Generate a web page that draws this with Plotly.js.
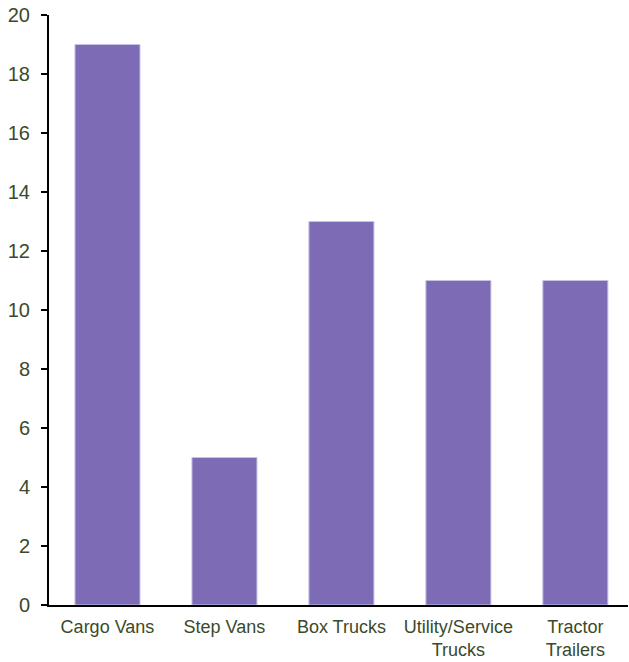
<!DOCTYPE html>
<html>
<head>
<meta charset="utf-8">
<script src="https://cdn.plot.ly/plotly-3.0.1.min.js"></script>
<style>
  html, body { margin: 0; padding: 0; background: #fff; }
  #chart { width: 629px; height: 662px; }
</style>
</head>
<body>
<div id="chart"></div>
<script>
// Vehicle categories and their counts
const categories = ["Cargo Vans", "Step Vans", "Box Trucks", "Utility/Service<br>Trucks", "Tractor<br>Trailers"];
const counts = [19, 5, 13, 11, 11];
const yTicks = [0, 2, 4, 6, 8, 10, 12, 14, 16, 18, 20];

const textColor = "#3B4A2A";

const trace = {
  type: "bar",
  x: categories,
  y: counts,
  marker: {
    color: "#7E6BB5",
    line: { color: "#C9C0E6", width: 1 }
  },
  hoverinfo: "x+y"
};

const layout = {
  width: 629,
  height: 662,
  margin: { l: 49, r: 1, t: 15, b: 57, pad: 0 },
  paper_bgcolor: "#ffffff",
  plot_bgcolor: "#ffffff",
  bargap: 0.444,
  showlegend: false,
  font: { family: "Liberation Sans, Arial, sans-serif", size: 18, color: textColor },
  xaxis: {
    type: "category",
    range: [-0.5, 4.45],
    showline: true,
    linecolor: "#000000",
    linewidth: 2,
    ticks: "",
    ticklabelstandoff: 4,
    showgrid: false,
    zeroline: false,
    tickfont: { size: 18, color: textColor }
  },
  yaxis: {
    range: [0, 20],
    tickvals: yTicks,
    ticktext: yTicks.map(String),
    showline: true,
    linecolor: "#000000",
    linewidth: 2,
    ticks: "outside",
    ticklen: 6,
    tickwidth: 2,
    tickcolor: "#000000",
    ticklabelstandoff: 7,
    showgrid: false,
    zeroline: false,
    tickfont: { size: 20, color: textColor }
  }
};

Plotly.newPlot("chart", [trace], layout, { displayModeBar: false, staticPlot: true });
</script>
</body>
</html>
